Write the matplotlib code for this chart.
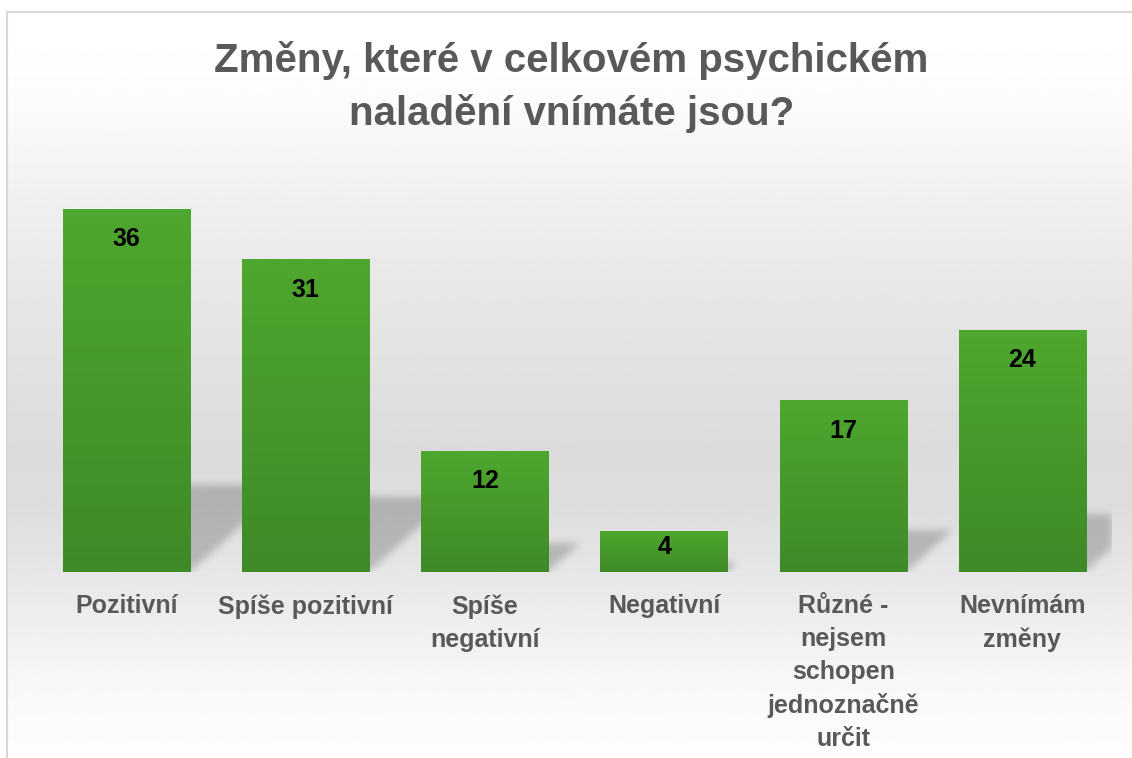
import numpy as np
import matplotlib.pyplot as plt
from matplotlib.path import Path
from matplotlib.colors import LinearSegmentedColormap

plt.rcParams['font.family'] = ['Liberation Sans', 'DejaVu Sans']

# data
categories = ['Pozitivní', 'Spíše pozitivní', 'Spíše\nnegativní', 'Negativní',
              'Různé -\nnejsem\nschopen\njednoznačně\nurčit', 'Nevnímám\nzměny']
values = [36, 31, 12, 4, 17, 24]
title = 'Změny, které v celkovém psychickém\nnaladění vnímáte jsou?'

W, H = 1132, 758
fig = plt.figure(figsize=(W / 100, H / 100), dpi=100)

# background with vertical grey gradient inside a light frame
bg = fig.add_axes([0, 0, 1, 1], zorder=-5)
bg.set_xlim(0, W)
bg.set_ylim(H, 0)
bg.axis('off')
rows = np.arange(H)
stops_y = [12, 80, 190, 300, 440, 500, 580, 680, 758]
stops_g = [1.0, 0.99, 0.94, 0.90, 0.862, 0.865, 0.91, 0.97, 0.995]
grey = np.interp(rows, stops_y, stops_g)
img = np.repeat(grey[:, None], 2, axis=1)
bg.imshow(img, cmap='gray', vmin=0, vmax=1, extent=(7, W, H, 12), aspect='auto')
bg.plot([7, 7, W], [H, 12, 12], color='#d9d9d9', lw=1.5)

ax = fig.add_axes([37 / W, 186 / H, 1075 / W, 403 / H])
ax.set_facecolor('none')
ax.set_xlim(-0.5, 5.5)
ax.set_ylim(0, 40)
px_per_unit = 403 / 40

x = np.arange(len(values))
bar_w = 0.71

# perspective shadows behind the bars (blurred)
nx, ny = 1075, 403
gx = np.linspace(-0.5, 5.5, nx)
gy = np.linspace(0, 40, ny)
XX, YY = np.meshgrid(gx, gy)
pts = np.column_stack([XX.ravel(), YY.ravel()])
mask = np.zeros(XX.size)
for xi, v in zip(x, values):
    h = 0.24 * v
    dx = 0.0149 * v
    poly = Path([(xi - bar_w / 2, 0), (xi + bar_w / 2, 0),
                 (xi + bar_w / 2 + dx, h), (xi - bar_w / 2 + dx, h)])
    mask[poly.contains_points(pts)] = 1
mask = mask.reshape(ny, nx)
k = np.arange(-12, 13)
kern = np.exp(-k ** 2 / (2 * 4.0 ** 2))
kern /= kern.sum()
mask = np.apply_along_axis(lambda r: np.convolve(r, kern, mode='same'), 1, mask)
mask = np.apply_along_axis(lambda c: np.convolve(c, kern, mode='same'), 0, mask)
shadow = np.zeros((ny, nx, 4))
shadow[..., 3] = mask * 0.2
ax.imshow(shadow, extent=(-0.5, 5.5, 0, 40), origin='lower', aspect='auto', zorder=1)

# bars with vertical green gradient
green = LinearSegmentedColormap.from_list('g', ['#3f8a28', '#4ea72e'])
grad = np.linspace(0, 1, 100)[:, None]
for xi, v in zip(x, values):
    ax.imshow(grad, cmap=green, extent=(xi - bar_w / 2, xi + bar_w / 2, 0, v),
              origin='lower', aspect='auto', zorder=2)
    off = min(30, 0.37 * v * px_per_unit)
    ax.annotate(str(v), (xi, v), xytext=(0, -off), textcoords='offset pixels',
                ha='center', va='center', fontsize=18, fontweight='bold',
                color='black', zorder=3)
ax.set_xlim(-0.5, 5.5)
ax.set_ylim(0, 40)

for s in ax.spines.values():
    s.set_visible(False)
ax.set_yticks([])
ax.set_xticks(x)
ax.set_xticklabels(categories, fontsize=18, fontweight='bold', color='#595959',
                   linespacing=1.47, va='top')
ax.tick_params(axis='x', length=0, pad=16)

fig.text(0.505, 1 - 87 / H, title, ha='center', va='center', fontsize=29,
         fontweight='bold', color='#595959', linespacing=1.45)

fig.savefig('out.png', dpi=100)
